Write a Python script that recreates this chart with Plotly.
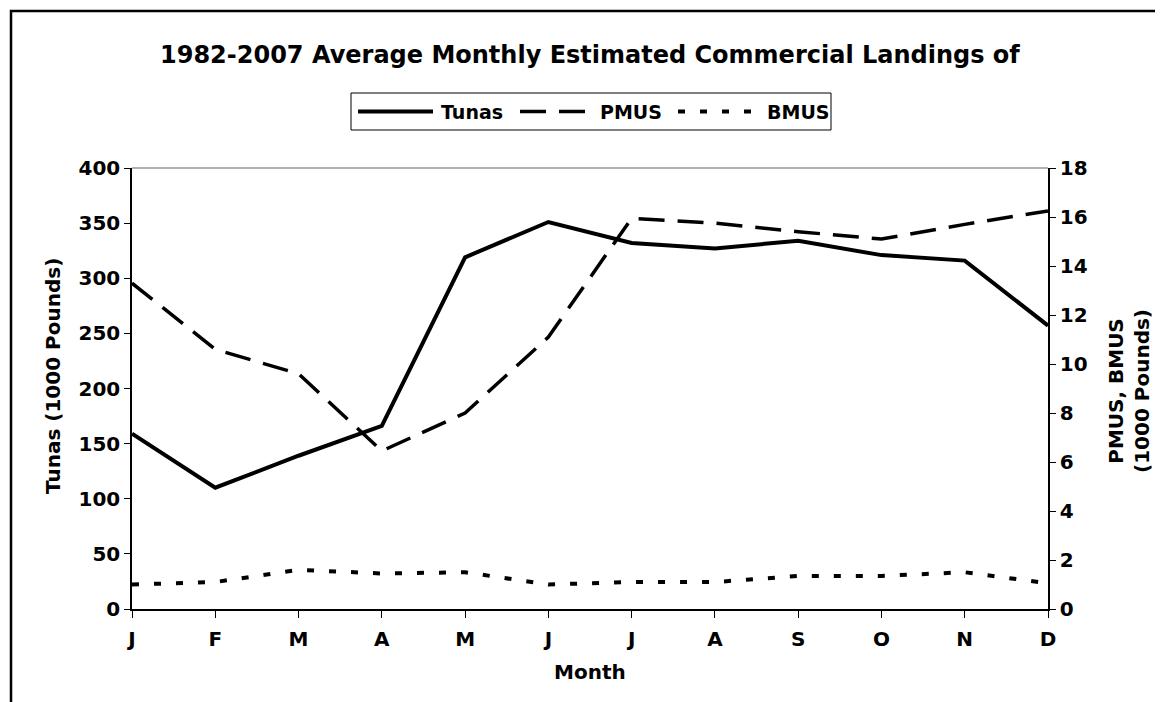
import plotly.graph_objects as go

months = ["J", "F", "M", "A", "M", "J", "J", "A", "S", "O", "N", "D"]
tunas = [159, 110, 139, 166, 319, 351, 332, 327, 334, 321, 316, 257]
pmus = [13.3, 10.6, 9.6, 6.45, 8.0, 11.1, 15.95, 15.75, 15.4, 15.1, 15.7, 16.25]
bmus = [1.0, 1.1, 1.6, 1.45, 1.5, 1.0, 1.1, 1.1, 1.35, 1.35, 1.5, 1.05]
left_ticks = [0, 50, 100, 150, 200, 250, 300, 350, 400]
right_ticks = [0, 2, 4, 6, 8, 10, 12, 14, 16, 18]

W, H = 1163, 702
L, R, T, B = 124, 123, 160, 101
PW, PH = W - L - R, H - T - B

def px(x):
    return (x - L) / PW

def py(y):
    return (H - B - y) / PH

FONT = "Verdana, DejaVu Sans, sans-serif"
x = list(range(len(months)))

solid = dict(color="black", width=4)
dashed = dict(color="black", width=3.5, dash="26px,13px")
dotted = dict(color="black", width=4, dash="7px,15px")

fig = go.Figure()
fig.add_trace(go.Scatter(x=x, y=tunas, name="Tunas", mode="lines", line=solid, yaxis="y"))
fig.add_trace(go.Scatter(x=x, y=pmus, name="PMUS", mode="lines", line=dashed, yaxis="y2"))
fig.add_trace(go.Scatter(x=x, y=bmus, name="BMUS", mode="lines", line=dotted, yaxis="y2"))

axfont = dict(family=FONT, size=20, color="black", weight="bold")
common = dict(showgrid=False, zeroline=False, showline=True, linecolor="black",
              linewidth=1.5, tickcolor="black", tickfont=axfont)

fig.update_layout(
    width=W, height=H,
    margin=dict(l=L, r=R, t=T, b=B),
    paper_bgcolor="white", plot_bgcolor="white",
    showlegend=False,
    font=axfont,
    xaxis=dict(range=[0, 11], tickvals=x, ticktext=months, ticks="outside", ticklen=7,
               ticklabelstandoff=4, **common),
    yaxis=dict(range=[0, 400], tickvals=left_ticks, ticks="outside", ticklen=6, **common),
    yaxis2=dict(range=[0, 18], tickvals=right_ticks, overlaying="y", side="right",
                ticks="outside", ticklen=6, **common),
    yaxis3=dict(range=[0, 400], tickvals=left_ticks, overlaying="y", side="left",
                ticks="inside", ticklen=5, showticklabels=False, **common),
    yaxis4=dict(range=[0, 18], tickvals=right_ticks, overlaying="y", side="right",
                ticks="inside", ticklen=5, showticklabels=False, **common),
)

shapes = []
# outer chart frame
shapes.append(dict(type="rect", xref="paper", yref="paper", x0=px(3), x1=px(1160),
                   y0=py(720), y1=py(3), line=dict(color="black", width=2.5)))
# top border of plot area
shapes.append(dict(type="line", xref="paper", yref="paper", x0=0, x1=1, y0=1, y1=1,
                   line=dict(color="#999999", width=1.5)))
# legend box
lx0, lx1, ly0, ly1 = 343, 823, 85, 122
lyc = (ly0 + ly1) / 2
shapes.append(dict(type="rect", xref="paper", yref="paper", x0=px(lx0), x1=px(lx1),
                   y0=py(ly1), y1=py(ly0), line=dict(color="black", width=1)))
leg = [("Tunas", lx0 + 7, lx0 + 82, lx0 + 88, solid),
       ("PMUS", lx0 + 169, lx0 + 234, lx0 + 247, dashed),
       ("BMUS", lx0 + 327, lx0 + 414, lx0 + 414, dotted)]
annotations = []
for name, s0, s1, tx, ln in leg:
    shapes.append(dict(type="line", xref="paper", yref="paper", x0=px(s0), x1=px(s1),
                       y0=py(lyc), y1=py(lyc), line=ln))
    annotations.append(dict(text=name, xref="paper", yref="paper", x=px(tx), y=py(lyc),
                            xanchor="left", yanchor="middle", showarrow=False,
                            font=dict(family=FONT, size=19, color="black", weight="bold")))

annotations.append(dict(text="1982-2007 Average Monthly Estimated Commercial Landings of",
                        xref="paper", yref="paper", x=0.5, y=py(47), xanchor="center",
                        yanchor="middle", showarrow=False,
                        font=dict(family=FONT, size=24, color="black", weight="bold")))
annotations.append(dict(text="Tunas (1000 Pounds)", xref="paper", yref="paper", x=px(45),
                        y=py(368), xanchor="center", yanchor="middle", textangle=-90,
                        showarrow=False, font=axfont))
annotations.append(dict(text="PMUS, BMUS<br>(1000 Pounds)", xref="paper", yref="paper",
                        x=px(1121), y=py(383), xanchor="center", yanchor="middle",
                        textangle=-90, showarrow=False, font=axfont))
annotations.append(dict(text="Month", xref="paper", yref="paper", x=0.5, y=py(664),
                        xanchor="center", yanchor="middle", showarrow=False, font=axfont))

fig.update_layout(shapes=shapes, annotations=annotations)
fig.write_html("out.html")
